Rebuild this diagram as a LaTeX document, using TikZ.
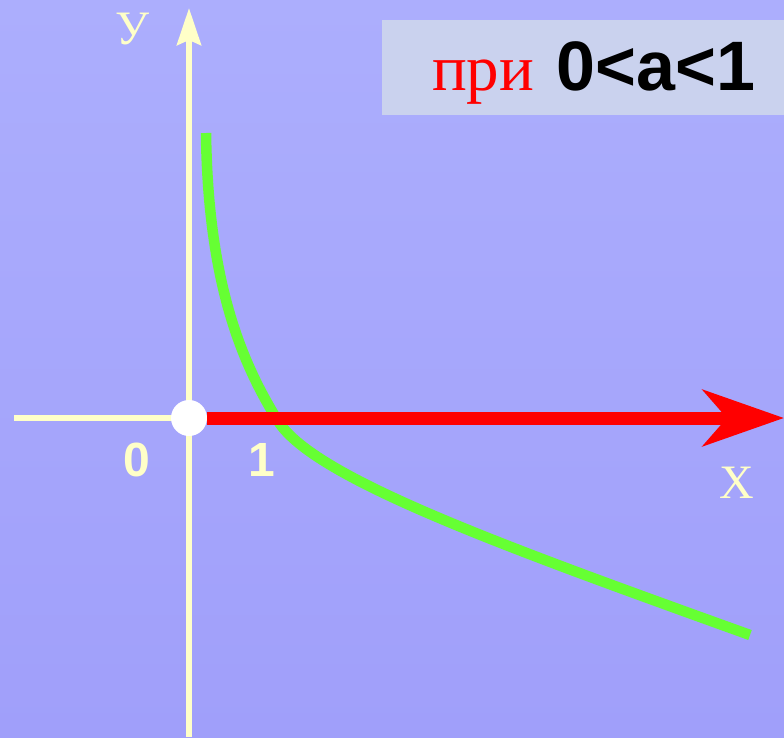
\documentclass[tikz,border=0pt]{standalone}
\usepackage{fontspec}
\setmainfont{Liberation Serif}
\setsansfont{Liberation Sans}
\usepackage{tikz}
\usetikzlibrary{arrows.meta,positioning}

\definecolor{axiscream}{RGB}{255,255,200}
\definecolor{bgtop}{RGB}{172,174,253}
\definecolor{bgmid}{RGB}{180,180,255}
\definecolor{bgbot}{RGB}{160,159,250}
\definecolor{boxfill}{RGB}{202,210,238}
\definecolor{curvegreen}{RGB}{102,255,51}

\begin{document}
\begin{tikzpicture}[x=1pt, y=-1pt, >=Stealth,
		axis/.style={draw=axiscream, line width=6pt},
		axislabel/.style={text=axiscream, inner sep=0pt, font=\fontsize{48}{48}\selectfont},
		numlabel/.style={text=axiscream, inner sep=0pt, font=\sffamily\bfseries\fontsize{48}{48}\selectfont}]
		% background
		\fill[top color=bgtop, middle color=bgmid, bottom color=bgbot] (0,0) rectangle (784,737);
		\useasboundingbox (0,0) rectangle (784,737);
		
		\coordinate (o) at (189,418);
		\coordinate (ybot) at (189,737);
		\coordinate (ytop) at (189,8);
		\coordinate (xleft) at (14,418);
		\coordinate (xtip) at (784,418);
		
		% axes
		\draw[axis, -{Stealth[length=37pt, width=24pt, inset=5pt]}] (ybot) -- (ytop);
		\draw[axis] (xleft) -- (o);
		
		% the curve
		\draw[curvegreen, line width=10.5pt]
			(206,133) .. controls (208,280) and (240,360) .. (278,421)
			.. controls (314,478) and (500,545) .. (750,635);
		
		\node[circle, fill=white, minimum size=36pt, inner sep=0pt] (O) at (o) {};
		\draw[red, line width=13pt, -{Stealth[length=81pt, width=56pt, inset=24pt]}] (O) -- (xtip);
		
		\node[axislabel] (ylab) at (132,29) {У};
		\node[axislabel] (xlab) at (737,483) {X};
		\node[numlabel] (zero) at (137,460) {0};
		\node[numlabel] (one) at (262,460) {1};
		
		% condition
		\fill[boxfill] (382,20) rectangle (784,115);
		\node[anchor=base west, inner sep=0pt, text=red, font=\fontsize{65}{65}\selectfont] (pri) at (432,90) {при};
		\node[base right=22pt of pri, inner sep=0pt, font=\sffamily\bfseries\fontsize{70}{70}\selectfont] (cond) {0<a<1};
	\end{tikzpicture}
\end{document}
